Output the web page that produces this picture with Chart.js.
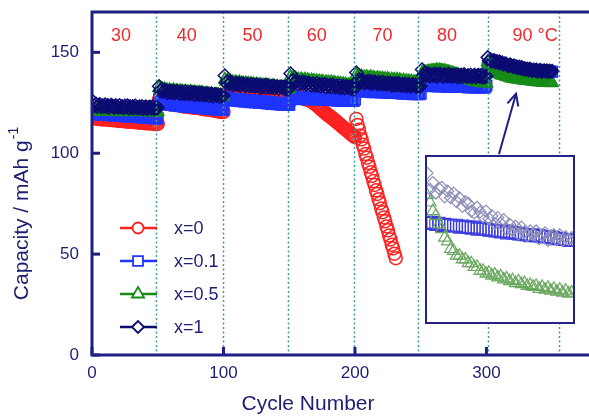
<!DOCTYPE html>
<html>
<head>
<meta charset="utf-8">
<script src="https://cdn.jsdelivr.net/npm/chart.js@4"></script>
<style>
  html, body { margin: 0; padding: 0; background: #fff; overflow: hidden; }
  #wrap { position: relative; width: 589px; height: 416px; }
  #main { position: absolute; left: 0; top: 0; }
  #insetBox { position: absolute; left: 425px; top: 155px; width: 146px; height: 165px;
              border: 2px solid #23238a; background: #fff; }
  #inset { display: block; }
</style>
</head>
<body>
<div id="wrap">
  <canvas id="main" width="589" height="416"></canvas>
  <div id="insetBox"><canvas id="inset" width="146" height="165"></canvas></div>
</div>
<script>
// ---------------- DATA ----------------
const seriesLabels = ['x=0', 'x=0.1', 'x=0.5', 'x=1'];
const tempLabels = ['30', '40', '50', '60', '70', '80', '90 \u00B0C'];
const tempLabelAt = [22, 72, 122, 171, 221, 270, 337];      // cycle where each label is centred
const tempBounds = [49, 100, 149, 199, 248, 301, 355];      // dotted temperature-change lines (cycle)
const xTicks = [0, 100, 200, 300];
const yTicks = [0, 50, 100, 150];

// capacity per cycle (cycle 1 = first value), mAh/g
const capX1 = [
  // 30 C
  125.5,123.5,124.5,123.1,123.9,124.2,122.9,123.6,123.2,124.1,122.9,123.8,122.7,123.6,123.9,123.1,122.6,123.7,123.2,122.7,
  123.8,122.8,123.3,122.5,123.5,122.9,123.6,122.3,123.2,122.5,123.3,122.3,123.5,122.8,122.3,123.1,122.5,123.3,122.1,122.8,
  123.1,121.9,122.8,123.0,122.2,123.1,122.0,122.5,122.0,122.6,
  // 40 C
  133.2,130.9,131.8,130.5,131.1,131.3,129.9,130.7,130.2,131.0,129.9,130.8,129.7,130.6,130.8,129.9,129.5,130.5,130.0,129.4,
  130.6,129.6,130.1,129.3,130.3,129.5,130.2,128.9,129.9,129.1,129.8,128.9,130.0,129.3,128.8,129.6,128.9,129.6,128.5,129.2,
  129.4,128.2,129.1,129.2,128.5,129.1,128.1,128.8,128.1,128.6,
  // 50 C
  138.5,134.9,135.7,134.3,135.0,135.2,133.7,134.4,134.1,134.9,133.7,134.6,133.5,134.3,134.5,133.7,133.3,134.3,133.8,133.2,
  134.3,133.3,133.8,133.1,133.9,133.3,133.9,132.5,133.5,132.8,133.6,132.6,133.8,133.1,132.5,133.2,132.6,133.4,132.2,132.9,
  133.1,132.0,132.8,133.1,132.3,132.9,131.9,132.5,131.8,132.2,
  // 60 C
  139.5,135.7,136.4,134.8,135.5,135.8,134.3,135.0,134.6,135.4,134.3,135.1,134.0,134.6,134.8,134.1,133.6,134.5,134.0,133.5,
  134.7,133.6,134.1,133.2,134.2,133.6,134.2,132.8,133.8,133.1,133.8,132.8,134.0,133.3,132.7,133.4,132.8,133.6,132.3,133.0,
  133.4,132.3,133.1,133.2,132.5,133.1,132.0,132.6,131.8,132.2,
  // 70 C
  140.0,135.9,136.7,135.3,136.0,136.2,134.7,135.4,135.1,135.9,134.7,135.6,134.5,135.3,135.5,134.7,134.3,135.3,134.8,134.2,
  135.3,134.3,134.8,134.1,134.9,134.3,134.9,133.5,134.5,133.8,134.6,133.6,134.8,134.1,133.5,134.2,133.6,134.4,133.2,133.9,
  134.1,133.0,133.8,134.1,133.3,133.9,132.9,133.5,132.8,133.2,
  // 80 C
  141.5,138.6,139.7,138.4,139.2,139.5,138.1,138.9,138.5,139.4,138.3,139.2,138.1,139.1,139.3,138.4,138.0,139.1,138.6,138.1,
  139.3,138.3,138.8,138.0,138.9,138.3,139.0,137.7,138.7,138.0,138.8,137.8,139.1,138.4,137.9,138.6,138.1,138.9,137.7,138.4,
  138.8,137.6,138.5,138.7,138.0,138.7,137.6,138.2,137.7,138.3,
  // 90 C
  147.5,145.8,146.5,145.4,145.9,146.0,145.0,145.6,144.9,145.4,144.5,144.9,144.0,144.5,144.3,143.5,143.3,143.9,143.4,142.9,
  143.5,142.7,143.0,142.2,142.8,142.2,142.6,141.6,142.1,141.5,141.9,141.1,141.8,141.3,140.9,141.4,141.0,141.4,140.6,141.0,
  141.2,140.4,140.9,141.0,140.5,141.0,140.4,140.8,140.5,140.7
];
const capX05 = [
  // 30 C
  122.1,121.1,121.5,120.8,121.9,120.8,121.3,120.6,121.5,121.0,121.0,121.7,120.6,121.3,121.0,120.5,121.5,120.9,121.3,120.4,
  121.4,120.7,121.1,120.5,121.4,121.0,120.4,121.2,120.8,121.2,120.7,121.4,120.5,121.1,120.8,120.4,121.3,120.7,121.1,120.4,
  121.3,120.6,121.0,120.3,120.9,120.6,120.2,120.9,120.4,120.6,
  // 40 C
  132.4,131.5,132.0,130.9,131.8,130.8,131.3,130.4,131.3,130.6,130.6,131.3,130.2,130.9,130.6,130.0,130.9,130.3,130.6,129.6,
  130.6,129.9,130.4,129.7,130.4,130.1,129.5,130.2,129.6,130.0,129.4,130.1,129.2,129.8,129.5,128.9,129.6,129.0,129.4,128.6,
  129.3,128.6,129.0,128.4,129.0,128.7,128.1,128.6,128.1,128.3,
  // 50 C
  136.5,135.5,136.0,134.8,135.6,134.6,135.2,134.3,135.2,134.6,134.5,135.2,134.0,134.8,134.5,133.9,134.7,134.1,134.5,133.5,
  134.4,133.7,134.2,133.5,134.1,133.7,133.1,133.9,133.3,133.7,133.1,133.8,132.9,133.5,133.2,132.5,133.3,132.6,133.1,132.3,
  132.9,132.2,132.7,131.9,132.4,132.1,131.7,132.1,131.6,131.8,
  // 60 C
  137.9,136.9,137.4,136.2,137.0,136.0,136.6,135.7,136.6,136.0,135.9,136.6,135.4,136.2,135.9,135.3,136.1,135.5,135.9,134.9,
  135.8,135.1,135.6,134.9,135.5,135.1,134.5,135.3,134.7,135.1,134.5,135.2,134.3,134.9,134.6,133.9,134.7,134.0,134.5,133.7,
  134.3,133.6,134.1,133.3,133.8,133.5,133.1,133.5,133.0,133.2,
  // 70 C
  138.9,138.0,138.4,137.3,138.1,137.1,137.7,136.9,137.8,137.2,137.1,137.8,136.6,137.4,137.1,136.5,137.3,136.7,137.1,136.2,
  137.0,136.3,136.8,136.1,136.8,136.4,135.8,136.6,136.0,136.4,135.8,136.5,135.6,136.2,135.9,135.2,136.0,135.3,135.8,135.0,
  135.7,135.0,135.5,134.8,135.3,135.0,134.5,135.0,134.4,134.6,
  // 80 C
  139.8,140.1,140.0,140.3,140.2,140.5,140.4,140.7,140.6,140.9,140.8,141.1,140.9,141.1,140.8,140.9,140.6,140.7,140.4,140.4,
  140.1,140.0,139.7,139.6,139.3,139.2,138.9,138.8,138.5,138.3,138.1,137.8,137.6,137.3,137.0,136.8,136.5,136.3,136.0,135.8,
  135.7,135.5,135.4,135.2,135.2,135.0,135.0,134.8,134.8,134.7,
  // 90 C
  145.2,144.4,143.5,143.0,142.1,141.6,140.7,140.3,139.5,139.3,138.8,138.8,138.4,138.4,138.0,138.0,137.6,137.6,137.2,137.2,
  136.9,137.0,136.7,136.8,136.5,136.6,136.3,136.4,136.1,136.2,135.9,136.1,135.8,135.9,135.6,135.7,135.5,135.6,135.3,135.5,
  135.2,135.4,135.1,135.3,135.0,135.2,134.9,135.1,134.8,134.9
];
const capX01 = [
  // 30 C
  122.0,119.5,120.4,119.1,120.2,119.3,119.9,119.0,119.8,119.2,119.1,119.9,118.8,119.6,119.3,118.7,119.6,118.9,119.4,118.5,
  119.4,118.6,119.2,118.4,119.2,118.7,118.2,119.0,118.4,118.8,118.2,118.9,118.0,118.6,118.3,117.8,118.6,117.9,118.4,117.6,
  118.4,117.7,118.2,117.5,118.1,117.7,117.3,117.9,117.3,117.3,
  // 40 C
  127.0,124.8,125.6,124.3,125.2,124.3,124.9,124.0,124.8,124.1,124.0,124.7,123.6,124.4,124.1,123.4,124.2,123.6,124.0,123.1,
  124.0,123.2,123.8,123.0,123.8,123.3,122.7,123.5,122.9,123.3,122.6,123.3,122.4,123.0,122.7,122.1,122.9,122.2,122.7,121.9,
  122.6,121.9,122.4,121.6,122.3,122.0,121.5,122.0,121.4,121.4,
  // 50 C
  129.0,126.8,127.6,126.4,127.2,126.4,127.0,126.1,126.9,126.3,126.1,126.8,125.8,126.6,126.3,125.6,126.4,125.8,126.2,125.3,
  126.2,125.4,126.0,125.2,126.0,125.6,125.0,125.8,125.2,125.6,124.9,125.6,124.7,125.3,125.0,124.4,125.2,124.5,125.0,124.3,
  125.0,124.3,124.8,124.0,124.7,124.4,124.0,124.5,123.9,123.9,
  // 60 C
  129.5,127.4,128.2,127.0,127.9,127.0,127.6,126.8,127.7,127.1,127.2,127.9,126.8,127.6,127.4,126.8,127.6,127.0,127.5,126.6,
  127.6,126.8,127.4,126.6,127.4,127.0,126.4,127.2,126.7,127.1,126.5,127.2,126.3,126.9,126.6,126.1,126.9,126.2,126.7,126.0,
  126.9,126.2,126.7,126.0,126.6,126.3,125.9,126.4,125.9,126.6,
  // 70 C
  133.0,131.1,131.9,130.8,131.7,130.8,131.3,130.5,131.4,130.8,130.7,131.4,130.3,131.1,130.9,130.3,131.1,130.5,131.0,130.1,
  131.0,130.2,130.8,130.0,130.8,130.4,129.9,130.7,130.1,130.5,129.9,130.6,129.7,130.3,130.0,129.5,130.3,129.6,130.1,129.4,
  130.2,129.5,130.0,129.2,129.9,129.6,129.2,129.7,129.2,129.5,
  // 80 C
  135.5,133.6,134.5,133.3,134.2,133.4,134.0,133.2,134.1,133.5,133.5,134.2,133.1,133.9,133.7,133.1,133.9,133.3,133.8,132.9,
  133.9,133.1,133.7,132.9,133.7,133.3,132.8,133.6,133.1,133.5,132.9,133.6,132.8,133.4,133.1,132.6,133.4,132.7,133.2,132.6,
  133.4,132.7,133.2,132.5,133.2,132.9,132.5,133.0,132.6,133.6,
  // 90 C
  142.3,142.2,142.3,142.1,142.2,142.0,142.1,142.0,142.0,141.9,142.0,141.8,141.9,141.8,141.8,141.7,141.8,141.6,141.7,141.6,
  141.6,141.5,141.5,141.4,141.4,141.3,141.4,141.2,141.3,141.2,141.2,141.1,141.1,141.0,141.0,140.9,141.0,140.9,140.9,140.8,
  140.8,140.8,140.7,140.7,140.6,140.6,140.5,140.5,140.4,140.4
];
const capX0 = [
  // 30 C
  118.3,117.4,117.9,117.0,117.5,117.1,117.6,116.7,117.4,116.9,116.8,117.4,116.5,117.1,116.8,116.3,117.0,116.4,116.8,116.0,
  116.8,116.1,116.6,115.9,116.5,116.1,115.6,116.3,115.7,116.1,115.5,116.2,115.4,115.9,115.6,115.1,115.8,115.2,115.6,114.9,
  115.5,114.9,115.3,114.7,115.2,114.9,114.5,114.9,114.4,114.6,
  // 40 C
  126.6,125.8,126.3,125.1,125.7,124.9,125.3,124.4,125.1,124.5,124.4,125.0,123.9,124.5,124.2,123.6,124.3,123.7,124.0,123.1,
  123.9,123.2,123.7,122.9,123.5,123.1,122.5,123.2,122.6,123.0,122.4,123.0,122.1,122.6,122.3,121.7,122.4,121.7,122.1,121.4,
  121.9,121.3,121.6,120.9,121.4,121.0,120.5,120.9,120.4,120.5,
  // 50 C
  129.2,128.3,128.8,127.7,128.4,127.5,128.0,127.3,128.0,127.4,127.4,128.0,126.9,127.6,127.3,126.8,127.5,126.9,127.3,126.4,
  127.3,126.6,127.1,126.4,127.0,126.6,126.0,126.8,126.2,126.6,126.0,126.6,125.7,126.3,126.0,125.4,126.1,125.4,125.9,125.2,
  125.8,125.2,125.6,124.9,125.5,125.2,124.7,125.2,124.8,124.9,
  // 60 C
  128.5,128.1,128.4,127.9,128.1,127.8,128.0,127.5,127.7,127.3,127.3,126.9,127.0,126.5,126.3,125.9,125.6,125.2,124.8,124.2,
  123.8,123.1,122.7,122.0,121.4,120.9,120.3,119.7,119.3,118.7,118.3,117.7,117.3,116.7,116.2,115.7,115.1,114.5,113.9,113.3,
  112.8,112.3,111.8,111.3,110.7,110.2,109.6,109.0,108.6,108.0,
  // 70 C
  117.0,114.0,111.7,108.8,106.9,104.2,102.3,99.6,97.8,95.2,93.3,90.6,88.8,86.2,84.3,81.6,79.8,77.2,75.3,72.6,
  70.8,68.2,66.3,63.7,61.8,59.2,57.3,54.7,52.8,50.2,48.0
];

// ---------------- STYLE ----------------
const FONT = '"Liberation Sans", Arial, Helvetica, sans-serif';
const AXIS = '#1e1e84';
const TEXT = '#1e1e72';
const TEMP = '#ee2b2b';
const DOT = '#3a9e9e';
const COL = { red: '#ff2020', blue: '#1e34ff', green: '#178c17', navy: '#0b0b72' };
const NOFILL = 'rgba(255,255,255,0)';

const pts = arr => arr.map((v, i) => ({ x: i + 1, y: v }));
const insetPts = arr => arr.slice(300).map((v, i) => ({ x: 301 + i, y: v }));

function marker(ctx, style, x, y, r) {
  ctx.beginPath();
  if (style === 'circle') {
    ctx.arc(x, y, r, 0, Math.PI * 2);
  } else if (style === 'rect') {
    const s = r * Math.SQRT1_2;
    ctx.rect(x - s, y - s, 2 * s, 2 * s);
  } else if (style === 'rectRot') {
    ctx.moveTo(x - r, y); ctx.lineTo(x, y - r); ctx.lineTo(x + r, y); ctx.lineTo(x, y + r); ctx.closePath();
  } else if (style === 'triangle') {
    for (let k = 0; k < 3; k++) {
      const a = k * 2 * Math.PI / 3;
      const px = x + Math.sin(a) * r, py = y - Math.cos(a) * r;
      k ? ctx.lineTo(px, py) : ctx.moveTo(px, py);
    }
    ctx.closePath();
  }
  ctx.fill(); ctx.stroke();
}

const legendItems = [
  { label: seriesLabels[0], color: COL.red, style: 'circle', r: 5.5 },
  { label: seriesLabels[1], color: COL.blue, style: 'rect', r: 7 },
  { label: seriesLabels[2], color: COL.green, style: 'triangle', r: 7 },
  { label: seriesLabels[3], color: COL.navy, style: 'rectRot', r: 6 }
];

const decor = {
  id: 'decor',
  afterDatasetsDraw(chart) {
    const { ctx, chartArea: a, scales: { x, y } } = chart;
    ctx.save();
    // dotted temperature boundaries
    ctx.strokeStyle = DOT; ctx.lineWidth = 1.5; ctx.setLineDash([2, 2.5]);
    tempBounds.forEach(c => {
      const px = Math.round(x.getPixelForValue(c)) + 0.5;
      ctx.beginPath(); ctx.moveTo(px, a.top); ctx.lineTo(px, a.bottom); ctx.stroke();
    });
    ctx.setLineDash([]);
    // frame
    ctx.strokeStyle = AXIS; ctx.lineWidth = 3;
    ctx.beginPath();
    ctx.moveTo(chart.width + 2, a.top); ctx.lineTo(a.left, a.top);
    ctx.lineTo(a.left, a.bottom); ctx.lineTo(chart.width + 2, a.bottom);
    ctx.stroke();
    // inward ticks
    yTicks.forEach(v => { const py = y.getPixelForValue(v); ctx.beginPath(); ctx.moveTo(a.left, py); ctx.lineTo(a.left + 8, py); ctx.stroke(); });
    xTicks.forEach(v => { const px = x.getPixelForValue(v); ctx.beginPath(); ctx.moveTo(px, a.bottom); ctx.lineTo(px, a.bottom - 8); ctx.stroke(); });
    // temperature labels
    ctx.fillStyle = TEMP; ctx.font = '18px ' + FONT; ctx.textAlign = 'center'; ctx.textBaseline = 'middle';
    tempLabels.forEach((t, i) => ctx.fillText(t, x.getPixelForValue(tempLabelAt[i]), a.top + 24));
    // legend
    legendItems.forEach((it, i) => {
      const ly = a.top + 216 + i * 33;
      ctx.strokeStyle = it.color; ctx.lineWidth = 2.5;
      ctx.beginPath(); ctx.moveTo(a.left + 28, ly); ctx.lineTo(a.left + 65, ly); ctx.stroke();
      ctx.fillStyle = '#fff'; ctx.lineWidth = 1.8;
      marker(ctx, it.style, a.left + 46, ly, it.r);
      ctx.fillStyle = TEXT; ctx.font = '18px ' + FONT; ctx.textAlign = 'left'; ctx.textBaseline = 'middle';
      ctx.fillText(it.label, a.left + 82, ly + 1);
    });
    // arrow from inset to the 90 C data
    const x0 = x.getPixelForValue(309.5), y0 = y.getPixelForValue(99.5);
    const x1 = x.getPixelForValue(322.5), y1 = y.getPixelForValue(129.5);
    const ang = Math.atan2(y1 - y0, x1 - x0);
    ctx.strokeStyle = AXIS; ctx.lineWidth = 2;
    ctx.beginPath(); ctx.moveTo(x0, y0); ctx.lineTo(x1, y1); ctx.stroke();
    ctx.beginPath();
    ctx.moveTo(x1 - 13 * Math.cos(ang - 0.45), y1 - 13 * Math.sin(ang - 0.45));
    ctx.lineTo(x1, y1);
    ctx.lineTo(x1 - 13 * Math.cos(ang + 0.45), y1 - 13 * Math.sin(ang + 0.45));
    ctx.stroke();
    // axis titles
    ctx.fillStyle = TEXT; ctx.textBaseline = 'middle';
    ctx.font = '21px ' + FONT; ctx.textAlign = 'center';
    ctx.fillText('Cycle Number', 308, 404);
    ctx.save();
    ctx.translate(22, 214);
    ctx.rotate(-Math.PI / 2);
    const main = 'Capacity / mAh g', sup = '-1';
    ctx.font = '21px ' + FONT; const w1 = ctx.measureText(main).width;
    ctx.font = '14px ' + FONT; const w2 = ctx.measureText(sup).width;
    const sx = -(w1 + w2) / 2;
    ctx.textAlign = 'left';
    ctx.font = '21px ' + FONT; ctx.fillText(main, sx, 0);
    ctx.font = '14px ' + FONT; ctx.fillText(sup, sx + w1 + 1, -8);
    ctx.restore();
    ctx.restore();
  }
};

const ds = (label, data, style, r, color, order) => ({
  label, data, pointStyle: style, pointRadius: r, pointHoverRadius: r,
  pointBorderColor: color, pointBackgroundColor: NOFILL, pointBorderWidth: 1.5,
  borderColor: color, backgroundColor: NOFILL, showLine: false, order
});

new Chart(document.getElementById('main'), {
  type: 'scatter',
  data: {
    datasets: [
      ds(seriesLabels[3], pts(capX1), 'rectRot', 6.5, COL.navy, 0),
      ds(seriesLabels[2], pts(capX05), 'triangle', 7, COL.green, 1),
      ds(seriesLabels[1], pts(capX01), 'rect', 7.5, COL.blue, 2),
      ds(seriesLabels[0], pts(capX0), 'circle', 6.5, COL.red, 3)
    ]
  },
  options: {
    responsive: false, animation: false, devicePixelRatio: 1, events: [],
    layout: { autoPadding: false, padding: { top: 12, right: 0, left: 0, bottom: 0 } },
    plugins: { legend: { display: false }, tooltip: { enabled: false } },
    scales: {
      x: {
        type: 'linear', min: 0, max: 378,
        afterBuildTicks: s => { s.ticks = xTicks.map(v => ({ value: v })); },
        afterFit: s => { s.height = 61; s.paddingLeft = 0; s.paddingRight = 0; },
        grid: { display: false, drawTicks: false }, border: { display: false },
        ticks: { color: TEXT, font: { size: 17, family: FONT, lineHeight: 2.1 }, padding: 0, maxRotation: 0 }
      },
      y: {
        type: 'linear', min: 0, max: 170,
        afterBuildTicks: s => { s.ticks = yTicks.map(v => ({ value: v })); },
        afterFit: s => { s.width = 92; s.paddingTop = 0; s.paddingBottom = 0; },
        grid: { display: false, drawTicks: false }, border: { display: false },
        ticks: { color: TEXT, font: { size: 17, family: FONT }, padding: 13 }
      }
    }
  },
  plugins: [decor]
});

// ---------------- INSET (90 C region enlarged) ----------------
const ids = (data, style, r, color, order) => ({
  data, pointStyle: style, pointRadius: r, pointHoverRadius: r,
  pointBorderColor: color, pointBackgroundColor: NOFILL, pointBorderWidth: 1.2,
  showLine: false, order
});
new Chart(document.getElementById('inset'), {
  type: 'scatter',
  data: {
    datasets: [
      ids(insetPts(capX1), 'rectRot', 6, '#8e8eb8', 0),
      ids(insetPts(capX05), 'triangle', 7, '#6aa860', 1),
      ids(insetPts(capX01), 'rect', 8.5, '#3c3ce2', 2)
    ]
  },
  options: {
    responsive: false, animation: false, devicePixelRatio: 1, events: [],
    layout: { autoPadding: false, padding: 0 },
    plugins: { legend: { display: false }, tooltip: { enabled: false } },
    scales: {
      x: { type: 'linear', min: 301, max: 350.5, display: false },
      y: { type: 'linear', min: 131.8, max: 149.2, display: false }
    }
  }
});
</script>
</body>
</html>
